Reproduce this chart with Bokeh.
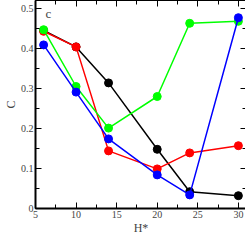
from bokeh.plotting import figure
from bokeh.models import LinearAxis, FixedTicker, Range1d, Label
from bokeh.embed import file_html
from bokeh.resources import INLINE

# data
h_star = [6, 10, 14, 20, 24, 30]
c_black = [0.445, 0.404, 0.314, 0.148, 0.042, 0.032]
c_red = [0.443, 0.404, 0.144, 0.099, 0.139, 0.157]
c_green = [0.447, 0.305, 0.201, 0.280, 0.463, 0.468]
c_blue = [0.409, 0.291, 0.174, 0.084, 0.034, 0.477]
series_colors = ["#000000", "#ff0000", "#00ff00", "#0000ff"]
x_ticks = [5, 10, 15, 20, 25, 30]
x_minor = [7.5, 12.5, 17.5, 22.5, 27.5]
y_ticks = [0, 0.1, 0.2, 0.3, 0.4, 0.5]
y_minor = [0.05, 0.15, 0.25, 0.35, 0.45]
y_labels = {0: "0", 0.1: "0.1", 0.2: "0.2", 0.3: "0.3", 0.4: "0.4", 0.5: "0.5"}
panel_tag = "c"

FONT = "Liberation Serif"

p = figure(frame_width=211, frame_height=208, output_backend="svg", toolbar_location=None,
           x_range=Range1d(5, 31), y_range=Range1d(0, 0.52),
           min_border_left=0, min_border_right=0, min_border_top=0, min_border_bottom=0)
p.grid.visible = False
p.outline_line_color = "black"
p.outline_line_width = 1
p.background_fill_color = "white"
p.border_fill_color = "white"

xt = FixedTicker(ticks=x_ticks, minor_ticks=x_minor)
yt = FixedTicker(ticks=y_ticks, minor_ticks=y_minor)

def style_axis(ax, show_labels, width):
    ax.major_tick_in = 6
    ax.major_tick_out = 0
    ax.minor_tick_in = 4
    ax.minor_tick_out = 0
    ax.axis_line_width = width
    ax.major_tick_line_width = 1
    ax.minor_tick_line_width = 1
    ax.major_label_text_font = FONT
    if show_labels:
        ax.major_label_text_font_size = "10px"
        ax.major_label_standoff = 2
    else:
        ax.major_label_text_font_size = "1px"
        ax.major_label_text_color = None
        ax.major_label_standoff = 0
    ax.axis_label_text_font = FONT
    ax.axis_label_text_font_style = "normal"
    ax.axis_label_text_font_size = "12px"
    ax.axis_label_standoff = 0

xa = p.xaxis[0]
xa.ticker = xt
xa.axis_label = "H*"
style_axis(xa, True, 2)
ya = p.yaxis[0]
ya.ticker = yt
ya.axis_label = "C"
ya.major_label_overrides = y_labels
ya.major_label_orientation = "horizontal"
style_axis(ya, True, 2)

ra = LinearAxis(ticker=yt)
style_axis(ra, False, 1)
p.add_layout(ra, "right")
ta = LinearAxis(ticker=xt)
style_axis(ta, False, 1)
p.add_layout(ta, "above")

for ys, col in zip([c_black, c_red, c_green, c_blue], series_colors):
    p.line(h_star, ys, line_color=col, line_width=1.5)
    p.scatter(h_star, ys, size=8, fill_color=col, line_color=col)

p.add_layout(Label(x=6.6, y=0.487, text=panel_tag, text_font=FONT,
                   text_font_size="13px", text_align="center", text_baseline="middle"))

open("out.html", "w").write(file_html(p, INLINE))
